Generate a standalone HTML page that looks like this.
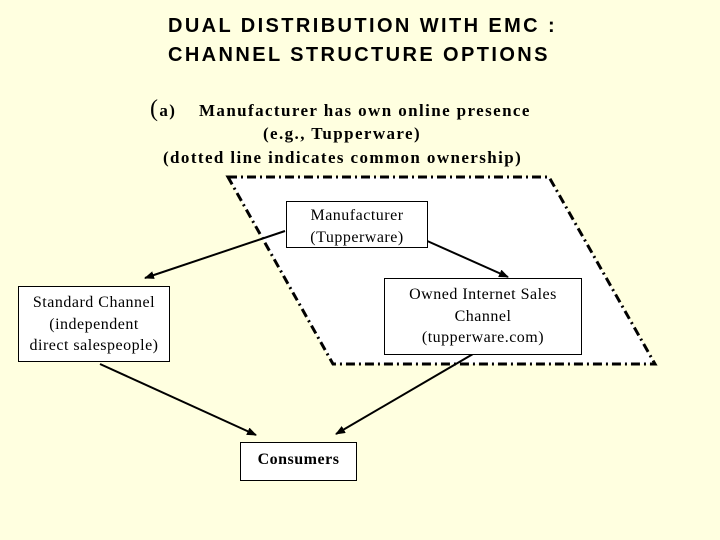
<!DOCTYPE html>
<html><head><style>
body{margin:0;width:720px;height:540px;background:#FFFFE0;overflow:hidden;position:relative;font-family:"Liberation Serif",serif}
.t{position:absolute;font-family:"Liberation Sans",sans-serif;font-size:20px;left:168px;line-height:29px;font-weight:bold;letter-spacing:2.4px;white-space:nowrap}
.s{position:absolute;font-size:17px;font-weight:bold;white-space:nowrap;letter-spacing:1.4px}
.b{position:absolute;background:#fff;border:1px solid #000;text-align:center;font-size:16px;letter-spacing:0.5px;line-height:21.5px;box-sizing:border-box;white-space:nowrap}
</style></head><body>
<div class="t" style="top:12px">DUAL DISTRIBUTION WITH EMC :<br>CHANNEL STRUCTURE OPTIONS</div>
<div class="s" style="left:150px;top:96px"><span style="font-size:24px;font-weight:normal">(</span>a)&nbsp;&nbsp;&nbsp;&nbsp;Manufacturer has own online presence</div>
<div class="s" style="left:263px;top:124px">(e.g., Tupperware)</div>
<div class="s" style="left:163px;top:148px">(dotted line indicates common ownership)</div>
<svg width="720" height="540" style="position:absolute;left:0;top:0">
<defs><marker id="a" markerWidth="10" markerHeight="8" refX="9" refY="4" orient="auto" markerUnits="userSpaceOnUse"><path d="M0,0L10,4L0,8z"/></marker></defs>
<polygon points="228,177 549,177 655,364 333,364" fill="#fff" stroke="#000" stroke-width="3" stroke-dasharray="9,4,2,4"/>
<g stroke="#000" stroke-width="2" marker-end="url(#a)">
<line x1="285" y1="231" x2="145" y2="278"/>
<line x1="425" y1="240" x2="508" y2="277"/>
<line x1="100" y1="364" x2="256" y2="435"/>
<line x1="473" y1="354" x2="336" y2="434"/>
</g></svg>
<div class="b" style="left:286px;top:201px;width:142px;height:47px;padding-top:3px">Manufacturer<br>(Tupperware)</div>
<div class="b" style="left:384px;top:278px;width:198px;height:77px;padding-top:5px">Owned Internet Sales<br>Channel<br>(tupperware.com)</div>
<div class="b" style="left:18px;top:286px;width:152px;height:76px;padding-top:5px">Standard Channel<br>(independent<br>direct salespeople)</div>
<div class="b" style="left:240px;top:442px;width:117px;height:39px;padding-top:6px;font-weight:bold">Consumers</div>
</body></html>
